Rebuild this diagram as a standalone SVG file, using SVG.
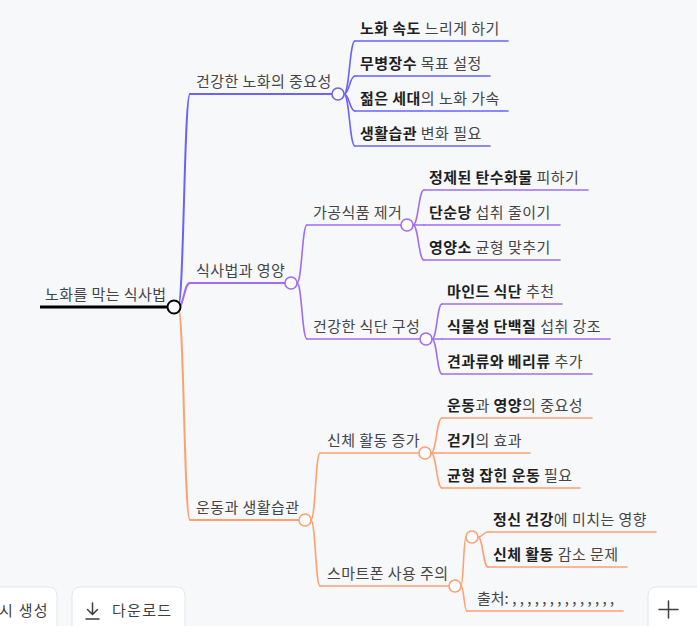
<svg xmlns="http://www.w3.org/2000/svg" width="697" height="626" viewBox="0 0 697 626">
<style>
text { font-family: "Noto Sans CJK KR", "Noto Sans", sans-serif; font-size: 15px; letter-spacing: 0.45px; fill: #454545; }
.b { font-weight: 700; fill: #1f1f1f; }
.btn { font-size: 15px; letter-spacing: 1.3px; fill: #3f3f3f; }
.src { letter-spacing: 0px; }
.ln { fill: none; stroke-width: 1.6; stroke-linecap: round; }
.br { stroke-width: 2; }
.c { fill: #ffffff; stroke-width: 1.6; }
.blue { stroke: #6a62fa; }
.purple { stroke: #a06cf2; }
.orange { stroke: #ff9f72; }
.card { fill: #ffffff; stroke: #e3e5e9; stroke-width: 1; }
.ic { fill: none; stroke: #3f3f3f; stroke-width: 1.5; stroke-linecap: round; stroke-linejoin: round; }
</style>
<rect x="0" y="0" width="697" height="626" fill="#f7f8fa"/>

<g id="connectors">
  <path class="ln br blue" d="M178,307 C184,307 184,94 190,94"/>
  <path class="ln br purple" d="M178,307 C184,307 184,283 190,283"/>
  <path class="ln br orange" d="M178,307 C184,307 184,520 190,520"/>

  <path class="ln blue" d="M344,94 C349.5,94 349.5,41 355,41"/>
  <path class="ln blue" d="M344,94 C349.5,94 349.5,76 355,76"/>
  <path class="ln blue" d="M344,94 C349.5,94 349.5,111 355,111"/>
  <path class="ln blue" d="M344,94 C349.5,94 349.5,146 355,146"/>

  <path class="ln purple" d="M297,283 C302,283 302,225 307,225"/>
  <path class="ln purple" d="M297,283 C302,283 302,339 307,339"/>
  <path class="ln purple" d="M413,225 C418.5,225 418.5,190 424,190"/>
  <path class="ln purple" d="M413,225 C418.5,225 418.5,225 424,225"/>
  <path class="ln purple" d="M413,225 C418.5,225 418.5,260 424,260"/>
  <path class="ln purple" d="M432,339 C437,339 437,304 442,304"/>
  <path class="ln purple" d="M432,339 C437,339 437,339 442,339"/>
  <path class="ln purple" d="M432,339 C437,339 437,374 442,374"/>

  <path class="ln orange" d="M311,520 C315.5,520 315.5,453 320,453"/>
  <path class="ln orange" d="M311,520 C315.5,520 315.5,586 320,586"/>
  <path class="ln orange" d="M431,453 C436.5,453 436.5,418 442,418"/>
  <path class="ln orange" d="M431,453 C436.5,453 436.5,453 442,453"/>
  <path class="ln orange" d="M431,453 C436.5,453 436.5,488 442,488"/>
  <path class="ln orange" d="M461,586 C463.5,586 463.5,537 466,537"/>
  <path class="ln orange" d="M461,586 C464,586 464,611 467,611"/>
  <path class="ln orange" d="M478,537 C483,537 483,532 488,532"/>
  <path class="ln orange" d="M478,537 C483,537 483,567 488,567"/>
</g>

<g id="root">
  <line x1="40" y1="307" x2="167" y2="307" stroke="#000" stroke-width="3"/>
  <circle cx="174" cy="307" r="6.5" fill="#fff" stroke="#000" stroke-width="2"/>
  <text x="45" y="300">노화를 막는 식사법</text>
</g>

<g id="n1">
  <line class="ln br blue" x1="190" y1="94" x2="332" y2="94"/>
  <circle class="c blue" cx="338" cy="94" r="6"/>
  <text x="196" y="87">건강한 노화의 중요성</text>
</g>
<g id="n1a">
  <line class="ln blue" x1="355" y1="41" x2="508" y2="41"/>
  <text x="360" y="34"><tspan class="b">노화 속도</tspan> 느리게 하기</text>
</g>
<g id="n1b">
  <line class="ln blue" x1="355" y1="76" x2="490" y2="76"/>
  <text x="360" y="69"><tspan class="b">무병장수</tspan> 목표 설정</text>
</g>
<g id="n1c">
  <line class="ln blue" x1="355" y1="111" x2="508" y2="111"/>
  <text x="360" y="104"><tspan class="b">젊은 세대</tspan>의 노화 가속</text>
</g>
<g id="n1d">
  <line class="ln blue" x1="355" y1="146" x2="490" y2="146"/>
  <text x="360" y="139"><tspan class="b">생활습관</tspan> 변화 필요</text>
</g>

<g id="n2">
  <line class="ln br purple" x1="190" y1="283" x2="285" y2="283"/>
  <circle class="c purple" cx="291" cy="283" r="6"/>
  <text x="196" y="276">식사법과 영양</text>
</g>
<g id="n2a">
  <line class="ln purple" x1="307" y1="225" x2="401" y2="225"/>
  <circle class="c purple" cx="407" cy="225" r="6"/>
  <text x="313" y="218">가공식품 제거</text>
</g>
<g id="n2a1">
  <line class="ln purple" x1="424" y1="190" x2="588" y2="190"/>
  <text x="429" y="183"><tspan class="b">정제된 탄수화물</tspan> 피하기</text>
</g>
<g id="n2a2">
  <line class="ln purple" x1="424" y1="225" x2="560" y2="225"/>
  <text x="429" y="218"><tspan class="b">단순당</tspan> 섭취 줄이기</text>
</g>
<g id="n2a3">
  <line class="ln purple" x1="424" y1="260" x2="560" y2="260"/>
  <text x="429" y="253"><tspan class="b">영양소</tspan> 균형 맞추기</text>
</g>
<g id="n2b">
  <line class="ln purple" x1="307" y1="339" x2="420" y2="339"/>
  <circle class="c purple" cx="426" cy="339" r="6"/>
  <text x="313" y="332">건강한 식단 구성</text>
</g>
<g id="n2b1">
  <line class="ln purple" x1="442" y1="304" x2="562" y2="304"/>
  <text x="447" y="297"><tspan class="b">마인드 식단</tspan> 추천</text>
</g>
<g id="n2b2">
  <line class="ln purple" x1="442" y1="339" x2="610" y2="339"/>
  <text x="447" y="332"><tspan class="b">식물성 단백질</tspan> 섭취 강조</text>
</g>
<g id="n2b3">
  <line class="ln purple" x1="442" y1="374" x2="592" y2="374"/>
  <text x="447" y="367"><tspan class="b">견과류와 베리류</tspan> 추가</text>
</g>

<g id="n3">
  <line class="ln br orange" x1="190" y1="520" x2="299" y2="520"/>
  <circle class="c orange" cx="305" cy="520" r="6"/>
  <text x="196" y="513">운동과 생활습관</text>
</g>
<g id="n3a">
  <line class="ln orange" x1="320" y1="453" x2="419" y2="453"/>
  <circle class="c orange" cx="425" cy="453" r="6"/>
  <text x="327" y="446">신체 활동 증가</text>
</g>
<g id="n3a1">
  <line class="ln orange" x1="442" y1="418" x2="592" y2="418"/>
  <text x="447" y="411"><tspan class="b">운동</tspan>과 <tspan class="b">영양</tspan>의 중요성</text>
</g>
<g id="n3a2">
  <line class="ln orange" x1="442" y1="453" x2="530" y2="453"/>
  <text x="447" y="446"><tspan class="b">걷기</tspan>의 효과</text>
</g>
<g id="n3a3">
  <line class="ln orange" x1="442" y1="488" x2="580" y2="488"/>
  <text x="447" y="481"><tspan class="b">균형 잡힌 운동</tspan> 필요</text>
</g>
<g id="n3b">
  <line class="ln orange" x1="320" y1="586" x2="449" y2="586"/>
  <circle class="c orange" cx="455" cy="586" r="6"/>
  <text x="327" y="579">스마트폰 사용 주의</text>
</g>
<g id="n3b1">
  <circle class="c orange" cx="472" cy="537" r="6"/>
</g>
<g id="n3b1a">
  <line class="ln orange" x1="488" y1="532" x2="656" y2="532"/>
  <text x="493" y="525"><tspan class="b">정신 건강</tspan>에 미치는 영향</text>
</g>
<g id="n3b1b">
  <line class="ln orange" x1="488" y1="567" x2="627" y2="567"/>
  <text x="493" y="560"><tspan class="b">신체 활동</tspan> 감소 문제</text>
</g>
<g id="n3b2">
  <line class="ln orange" x1="467" y1="611" x2="623" y2="611"/>
  <text class="src" x="477" y="604">출처: , , , , , , , , , , , , , ,</text>
</g>

<g id="toolbar">
  <rect class="card" x="-10" y="587" width="67" height="60" rx="8"/>
  <text class="btn" x="-1" y="616">시 생성</text>
  <rect class="card" x="72" y="587" width="113" height="60" rx="8"/>
  <path class="ic" d="M92.5,603 V614 M87.5,609.5 L92.5,614.5 L97.5,609.5 M86,619 H99"/>
  <text class="btn" x="112" y="616">다운로드</text>
  <rect class="card" x="648" y="587" width="60" height="60" rx="8"/>
  <path class="ic" d="M659,609.5 H678 M668.5,601 V618"/>
</g>
</svg>
